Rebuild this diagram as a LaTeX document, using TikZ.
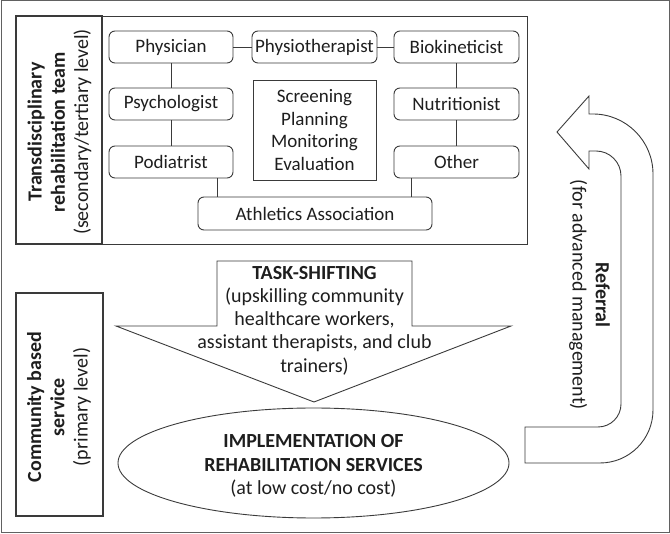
\documentclass[tikz,border=0pt]{standalone}
\usepackage{fontspec}
\setmainfont{Carlito}
\usetikzlibrary{shapes.geometric}
\definecolor{ln}{HTML}{3A3A3A}
\definecolor{tx}{HTML}{1E1E1E}
\begin{document}
\begin{tikzpicture}[x=1pt,y=-1pt,
  every node/.style={font=\fontsize{20}{23.3}\selectfont, text=tx},
  small/.style={font=\fontsize{19}{22.5}\selectfont},
  role/.style={draw=ln, line width=0.9pt, rounded corners=6pt, minimum height=32pt, inner sep=0pt, small},
  plainbox/.style={draw=ln, line width=0.9pt},
  labelbox/.style={draw=ln, line width=1.8pt},
  conn/.style={draw=ln, line width=0.9pt}]
\useasboundingbox (0,0) rectangle (670,534);
\draw[draw=ln!80, line width=1pt] (1,1) rectangle (669,533);
% team box
\draw[plainbox] (16,16) rectangle (527,244);
\draw[labelbox] (16,16) rectangle (102,244);
\node[rotate=90, align=center] (teamlbl) at (59.5,132) {\textbf{Transdisciplinary}\\\textbf{rehabilitation team}\\(secondary/tertiary level)};
% roles
\node[role, minimum width=124pt] (phys) at (171,47) {Physician};
\node[role, minimum width=125pt] (physio) at (314.5,47) {Physiotherapist};
\node[role, minimum width=125pt] (bio) at (456.5,47) {Biokineticist};
\node[role, minimum width=124pt] (psy) at (171,104) {Psychologist};
\node[role, minimum width=124pt] (pod) at (171,162) {Podiatrist};
\node[role, minimum width=125pt] (nut) at (456.5,104) {Nutritionist};
\node[role, minimum width=125pt] (oth) at (456.5,162) {Other};
\node[role, minimum width=234pt, minimum height=33pt] (ath) at (315,213.5) {Athletics Association};
\node[plainbox, small, minimum width=123pt, minimum height=100pt, inner sep=0pt, align=center] (spme) at (314.5,130) {Screening\\Planning\\Monitoring\\Evaluation};
\coordinate (jl) at (217,0);
\coordinate (jr) at (411,0);
\draw[conn] (phys.east) -- (physio.west);
\draw[conn] (physio.east) -- (bio.west);
\draw[conn] (phys) -- (psy);
\draw[conn] (psy) -- (pod);
\draw[conn] (bio) -- (nut);
\draw[conn] (nut) -- (oth);
\draw[conn] (pod.south -| jl) -- (ath.north -| jl);
\draw[conn] (oth.south -| jr) -- (ath.north -| jr);
% task shifting
\draw[plainbox] (217,261) -- (412,261) -- (412,326) -- (511,326) -- (314,402) -- (116,326) -- (217,326) -- cycle;
\node[align=center] (task) at (314.5,320.5) {\textbf{TASK-SHIFTING}\\(upskilling community\\healthcare workers,\\assistant therapists, and club\\trainers)};
% implementation
\node[ellipse, plainbox, minimum width=391pt, minimum height=110pt, inner sep=0pt] (impl) at (313.5,463) {};
\node[align=center] (impltext) at (313.5,466) {\textbf{IMPLEMENTATION OF}\\\textbf{REHABILITATION SERVICES}\\(at low cost/no cost)};
% community
\draw[draw=ln, line width=1.3pt] (16,293) rectangle (103,516);
\node[rotate=90, align=center] (comlbl) at (59,407) {\textbf{Community based}\\\textbf{service}\\(primary level)};
% referral arrow
\draw[plainbox] (557,132) -- (589,96) -- (589,114) -- (593,114)
  arc[start angle=90, end angle=0, radius=60pt] -- (653,410)
  arc[start angle=0, end angle=-90, radius=53pt] -- (525,463) -- (525,427) -- (598,427)
  arc[start angle=-90, end angle=0, radius=23pt] -- (621,176)
  arc[start angle=0, end angle=90, radius=25pt] -- (589,151) -- (589,169) -- cycle;
\node[rotate=-90, align=center] (ref) at (589.5,295) {\textbf{Referral}\\(for advanced management)};
\end{tikzpicture}
\end{document}
